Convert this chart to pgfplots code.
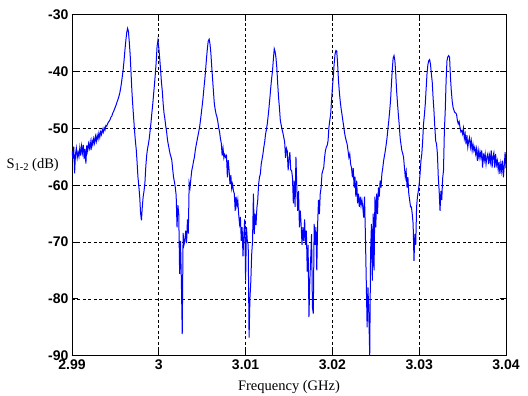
\documentclass[border=0pt]{standalone}
\usepackage{fontspec}
\setmainfont{Liberation Serif}
\setsansfont{Liberation Sans}
\usepackage{pgfplots}
\pgfplotsset{compat=1.18}
\begin{document}
\begin{tikzpicture}[x=1pt,y=1pt]
\useasboundingbox (0,0) rectangle (528,396);
\begin{axis}[
  at={(72pt,40.3pt)}, anchor=south west,
  width=434pt, height=341pt, scale only axis,
  xmin=2.99, xmax=3.04, ymin=-90, ymax=-30,
  xtick={2.99,3,3.01,3.02,3.03,3.04},
  xticklabels={2.99,3,3.01,3.02,3.03,3.04},
  ytick={-90,-80,-70,-60,-50,-40,-30},
  yticklabels={-90,-80,-70,-60,-50,-40,-30},
  ticklabel style={font=\fontsize{14}{16}\selectfont\sffamily\bfseries},
  every axis x label/.style={at={(axis description cs:0.5,0)},anchor=base,yshift=-35pt,font=\fontsize{14.5}{16}\selectfont},
  every axis y label/.style={at={(axis description cs:0,0.559)},anchor=west,xshift=-69pt,font=\fontsize{14.5}{16}\selectfont},
  xlabel={Frequency (GHz)},
  ylabel={S\raisebox{-0.35ex}{\fontsize{10.5}{11}\selectfont 1-2} (dB)},
  grid=major,
  major grid style={black, line width=0.7pt, dash pattern=on 3pt off 2.5pt},
  axis line style={line width=0.9pt},
  tick style={black, line width=0.8pt},
  tick align=inside, major tick length=6pt,
]
\addplot[blue, line width=1pt] coordinates {
(2.9900,-54.0) (2.9901,-55.3) (2.9902,-53.2) (2.9903,-57.9) (2.9904,-54.6) (2.9905,-53.5) (2.9906,-55.2) (2.9907,-54.2) (2.9908,-55.0) (2.9909,-53.4)
(2.9910,-54.8) (2.9911,-53.1) (2.9912,-54.3) (2.9913,-52.9) (2.9914,-55.4) (2.9915,-53.6) (2.9916,-56.2) (2.9917,-53.0) (2.9918,-54.0) (2.9919,-52.7)
(2.9920,-53.5) (2.9921,-52.4) (2.9922,-53.8) (2.9923,-52.1) (2.9924,-52.9) (2.9925,-51.8) (2.9926,-52.6) (2.9927,-51.4) (2.9928,-52.3) (2.9929,-51.2)
(2.9930,-51.9) (2.9931,-50.8) (2.9932,-51.6) (2.9933,-50.6) (2.9934,-51.1) (2.9935,-50.2) (2.9936,-50.7) (2.9937,-49.9) (2.9938,-50.3) (2.9939,-49.5)
(2.9940,-49.6) (2.9941,-49.2) (2.9942,-48.9) (2.9943,-48.7) (2.9944,-48.4) (2.9945,-48.0) (2.9946,-47.8) (2.9947,-47.3) (2.9948,-47.0) (2.9949,-46.6)
(2.9950,-46.2) (2.9951,-45.8) (2.9952,-45.3) (2.9953,-44.9) (2.9954,-44.4) (2.9955,-43.8) (2.9956,-43.0) (2.9957,-42.0) (2.9958,-40.8) (2.9959,-39.6)
(2.9960,-38.0) (2.9961,-36.2) (2.9962,-34.6) (2.9963,-33.2) (2.9964,-32.4) (2.9965,-32.9) (2.9966,-34.8) (2.9967,-37.0) (2.9968,-40.2) (2.9969,-43.4)
(2.9970,-45.9) (2.9971,-48.1) (2.9972,-50.3) (2.9973,-52.2) (2.9974,-53.7) (2.9975,-56.0) (2.9976,-58.6) (2.9977,-60.2) (2.9978,-62.0) (2.9979,-64.9)
(2.9980,-66.2) (2.9981,-63.8) (2.9982,-62.0) (2.9983,-61.0) (2.9984,-59.6) (2.9985,-56.8) (2.9986,-54.8) (2.9987,-53.6) (2.9988,-52.8) (2.9989,-51.8)
(2.9990,-50.4) (2.9991,-49.0) (2.9992,-47.3) (2.9993,-45.8) (2.9994,-44.0) (2.9995,-42.3) (2.9996,-40.4) (2.9997,-38.3) (2.9998,-35.6) (2.9999,-34.5)
(3.0000,-35.8) (3.0001,-37.6) (3.0002,-39.6) (3.0003,-41.8) (3.0004,-43.4) (3.0005,-45.6) (3.0006,-47.3) (3.0007,-48.3) (3.0008,-49.6) (3.0009,-50.6)
(3.0010,-52.0) (3.0011,-52.9) (3.0012,-53.7) (3.0013,-54.5) (3.0014,-55.0) (3.0015,-55.6) (3.0016,-57.2) (3.0017,-58.6) (3.0018,-59.4) (3.0019,-60.4)
(3.0020,-61.8) (3.0021,-67.4) (3.0022,-63.5) (3.0023,-65.1) (3.0024,-75.6) (3.0025,-69.8) (3.0026,-76.8) (3.0027,-86.2) (3.0028,-68.4) (3.0029,-70.5)
(3.0030,-69.8) (3.0031,-68.0) (3.0032,-70.2) (3.0033,-66.0) (3.0034,-68.5) (3.0035,-59.6) (3.0036,-60.4) (3.0037,-58.8) (3.0038,-57.4) (3.0039,-56.7)
(3.0040,-55.8) (3.0041,-55.1) (3.0042,-53.9) (3.0043,-53.0) (3.0044,-52.2) (3.0045,-51.4) (3.0046,-50.6) (3.0047,-49.8) (3.0048,-48.6) (3.0049,-47.3)
(3.0050,-46.0) (3.0051,-44.6) (3.0052,-42.9) (3.0053,-41.4) (3.0054,-39.6) (3.0055,-37.6) (3.0056,-35.9) (3.0057,-34.6) (3.0058,-34.3) (3.0059,-35.2)
(3.0060,-36.8) (3.0061,-39.2) (3.0062,-41.4) (3.0063,-43.6) (3.0064,-45.7) (3.0065,-46.7) (3.0066,-47.5) (3.0067,-48.0) (3.0068,-48.8) (3.0069,-49.9)
(3.0070,-50.6) (3.0071,-51.8) (3.0072,-52.6) (3.0073,-54.8) (3.0074,-53.5) (3.0075,-55.2) (3.0076,-54.6) (3.0077,-55.1) (3.0078,-54.8) (3.0079,-58.6)
(3.0080,-55.6) (3.0081,-57.4) (3.0082,-59.8) (3.0083,-58.2) (3.0084,-60.6) (3.0085,-59.8) (3.0086,-61.0) (3.0087,-61.5) (3.0088,-64.5) (3.0089,-62.0)
(3.0090,-63.6) (3.0091,-62.6) (3.0092,-65.1) (3.0093,-66.8) (3.0094,-65.6) (3.0095,-69.8) (3.0096,-67.4) (3.0097,-72.5) (3.0098,-68.6) (3.0099,-66.0)
(3.0100,-76.8) (3.0101,-67.4) (3.0102,-69.8) (3.0103,-70.5) (3.0104,-86.8) (3.0105,-79.9) (3.0106,-77.0) (3.0107,-72.2) (3.0108,-69.8) (3.0109,-61.5)
(3.0110,-68.6) (3.0111,-65.0) (3.0112,-67.0) (3.0113,-64.0) (3.0114,-62.6) (3.0115,-59.8) (3.0116,-58.6) (3.0117,-58.0) (3.0118,-56.3) (3.0119,-55.4)
(3.0120,-54.5) (3.0121,-53.3) (3.0122,-52.4) (3.0123,-51.0) (3.0124,-50.2) (3.0125,-49.2) (3.0126,-47.8) (3.0127,-46.3) (3.0128,-44.6) (3.0129,-42.8)
(3.0130,-41.2) (3.0131,-39.9) (3.0132,-37.8) (3.0133,-36.0) (3.0134,-36.5) (3.0135,-37.6) (3.0136,-39.4) (3.0137,-42.2) (3.0138,-44.6) (3.0139,-46.4)
(3.0140,-48.6) (3.0141,-49.4) (3.0142,-50.2) (3.0143,-50.8) (3.0144,-51.6) (3.0145,-52.4) (3.0146,-55.2) (3.0147,-53.5) (3.0148,-54.0) (3.0149,-57.4)
(3.0150,-55.5) (3.0151,-54.2) (3.0152,-57.3) (3.0153,-57.4) (3.0154,-58.6) (3.0155,-63.2) (3.0156,-59.2) (3.0157,-63.8) (3.0158,-55.0) (3.0159,-60.4)
(3.0160,-64.5) (3.0161,-61.0) (3.0162,-67.4) (3.0163,-64.5) (3.0164,-67.0) (3.0165,-70.5) (3.0166,-67.4) (3.0167,-69.8) (3.0168,-66.0) (3.0169,-70.5)
(3.0170,-68.0) (3.0171,-75.2) (3.0172,-70.5) (3.0173,-83.2) (3.0174,-76.8) (3.0175,-72.8) (3.0176,-68.6) (3.0177,-81.5) (3.0178,-82.6) (3.0179,-66.8)
(3.0180,-70.5) (3.0181,-67.4) (3.0182,-75.0) (3.0183,-66.8) (3.0184,-62.6) (3.0185,-65.1) (3.0186,-61.5) (3.0187,-60.4) (3.0188,-58.0) (3.0189,-57.4)
(3.0190,-56.9) (3.0191,-55.1) (3.0192,-53.9) (3.0193,-53.3) (3.0194,-53.0) (3.0195,-52.2) (3.0196,-49.8) (3.0197,-48.6) (3.0198,-47.5) (3.0199,-45.1)
(3.0200,-42.8) (3.0201,-41.0) (3.0202,-38.7) (3.0203,-37.0) (3.0204,-36.3) (3.0205,-36.4) (3.0206,-38.6) (3.0207,-41.6) (3.0208,-43.6) (3.0209,-45.2)
(3.0210,-46.5) (3.0211,-47.5) (3.0212,-48.6) (3.0213,-49.6) (3.0214,-50.8) (3.0215,-51.6) (3.0216,-52.2) (3.0217,-52.8) (3.0218,-53.9) (3.0219,-55.1)
(3.0220,-54.5) (3.0221,-56.3) (3.0222,-56.9) (3.0223,-58.6) (3.0224,-57.0) (3.0225,-60.4) (3.0226,-58.5) (3.0227,-62.0) (3.0228,-59.2) (3.0229,-63.2)
(3.0230,-61.5) (3.0231,-63.8) (3.0232,-62.0) (3.0233,-63.6) (3.0234,-62.6) (3.0235,-63.8) (3.0236,-65.7) (3.0237,-62.0) (3.0238,-68.6) (3.0239,-76.8)
(3.0240,-85.0) (3.0241,-78.0) (3.0242,-83.0) (3.0243,-90.0) (3.0244,-71.7) (3.0245,-66.8) (3.0246,-76.8) (3.0247,-65.0) (3.0248,-75.0) (3.0249,-62.0)
(3.0250,-67.4) (3.0251,-61.5) (3.0252,-65.1) (3.0253,-60.4) (3.0254,-62.0) (3.0255,-59.2) (3.0256,-60.4) (3.0257,-58.0) (3.0258,-57.0) (3.0259,-55.7)
(3.0260,-54.8) (3.0261,-53.9) (3.0262,-52.8) (3.0263,-51.6) (3.0264,-50.0) (3.0265,-48.6) (3.0266,-46.9) (3.0267,-45.1) (3.0268,-42.2) (3.0269,-39.6)
(3.0270,-37.6) (3.0271,-37.2) (3.0272,-38.1) (3.0273,-40.5) (3.0274,-43.4) (3.0275,-45.6) (3.0276,-47.6) (3.0277,-49.4) (3.0278,-51.6) (3.0279,-52.8)
(3.0280,-53.9) (3.0281,-54.4) (3.0282,-55.1) (3.0283,-56.9) (3.0284,-58.6) (3.0285,-57.6) (3.0286,-60.4) (3.0287,-58.6) (3.0288,-61.5) (3.0289,-62.6)
(3.0290,-63.8) (3.0291,-63.8) (3.0292,-65.1) (3.0293,-66.8) (3.0294,-73.3) (3.0295,-68.6) (3.0296,-70.5) (3.0297,-63.8) (3.0298,-62.0) (3.0299,-61.0)
(3.0300,-59.8) (3.0301,-58.0) (3.0302,-55.7) (3.0303,-54.5) (3.0304,-52.2) (3.0305,-49.2) (3.0306,-47.6) (3.0307,-45.7) (3.0308,-43.0) (3.0309,-40.4)
(3.0310,-38.8) (3.0311,-38.1) (3.0312,-37.9) (3.0313,-38.7) (3.0314,-40.4) (3.0315,-41.8) (3.0316,-44.6) (3.0317,-46.9) (3.0318,-49.8) (3.0319,-52.2)
(3.0320,-52.8) (3.0321,-54.5) (3.0322,-58.6) (3.0323,-61.0) (3.0324,-64.5) (3.0325,-61.0) (3.0326,-62.6) (3.0327,-58.8) (3.0328,-57.4) (3.0329,-50.4)
(3.0330,-46.9) (3.0331,-41.6) (3.0332,-38.1) (3.0333,-37.4) (3.0334,-37.2) (3.0335,-37.5) (3.0336,-41.0) (3.0337,-43.4) (3.0338,-45.2) (3.0339,-46.3)
(3.0340,-46.8) (3.0341,-47.2) (3.0342,-47.3) (3.0343,-47.5) (3.0344,-48.6) (3.0345,-49.2) (3.0346,-48.8) (3.0347,-49.8) (3.0348,-50.6) (3.0349,-50.4)
(3.0350,-51.0) (3.0351,-50.0) (3.0352,-51.8) (3.0353,-51.0) (3.0354,-52.8) (3.0355,-51.2) (3.0356,-53.3) (3.0357,-52.2) (3.0358,-51.6) (3.0359,-53.3)
(3.0360,-52.2) (3.0361,-53.9) (3.0362,-52.8) (3.0363,-53.9) (3.0364,-53.3) (3.0365,-54.5) (3.0366,-53.6) (3.0367,-55.7) (3.0368,-53.9) (3.0369,-55.2)
(3.0370,-54.1) (3.0371,-55.1) (3.0372,-53.9) (3.0373,-56.9) (3.0374,-54.4) (3.0375,-55.6) (3.0376,-54.5) (3.0377,-56.3) (3.0378,-55.0) (3.0379,-54.5)
(3.0380,-56.3) (3.0381,-54.8) (3.0382,-55.9) (3.0383,-53.9) (3.0384,-56.9) (3.0385,-55.0) (3.0386,-54.3) (3.0387,-56.9) (3.0388,-54.5) (3.0389,-56.4)
(3.0390,-55.7) (3.0391,-57.3) (3.0392,-55.9) (3.0393,-58.0) (3.0394,-56.2) (3.0395,-57.5) (3.0396,-55.7) (3.0397,-58.6) (3.0398,-56.5) (3.0399,-54.2) (3.0400,-57.0)
};
\end{axis}
\end{tikzpicture}
\end{document}
